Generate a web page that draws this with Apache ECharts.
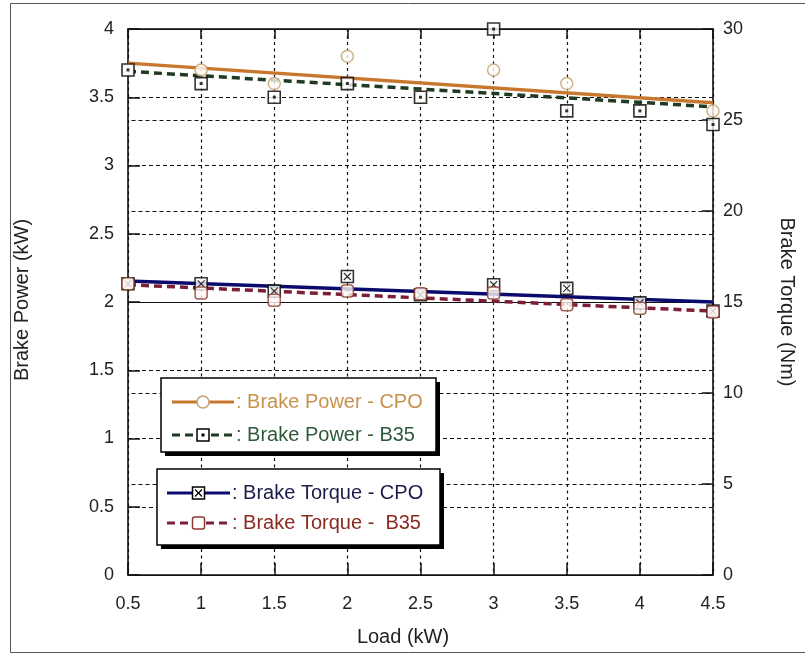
<!DOCTYPE html>
<html>
<head>
<meta charset="utf-8">
<title>Brake Power and Brake Torque vs Load</title>
<script src="https://cdn.jsdelivr.net/npm/echarts@6/dist/echarts.min.js"></script>
<style>
  html, body { margin: 0; padding: 0; background: #ffffff; }
  #chart { width: 805px; height: 656px; }
</style>
</head>
<body>
<div id="chart"></div>
<script>
// Engine load steps (kW)
const loads = [0.5, 1, 1.5, 2, 2.5, 3, 3.5, 4, 4.5];

// Brake power (kW), left axis
const powerCPO = [3.7, 3.7, 3.6, 3.8, 3.5, 3.7, 3.6, 3.4, 3.4];
const powerB35 = [3.7, 3.6, 3.5, 3.6, 3.5, 4.0, 3.4, 3.4, 3.3];

// Brake torque (Nm), right axis
const torqueCPO = [16.0, 16.0, 15.6, 16.4, 15.4, 15.95, 15.75, 14.95, 14.5];
const torqueB35 = [16.0, 15.5, 15.1, 15.6, 15.45, 15.5, 14.85, 14.65, 14.45];

// Straight-line fits, given at the ends of the load range
const fitLoads = [0.5, 4.5];
const powerCPOFit = [3.75, 3.46];
const powerB35Fit = [3.69, 3.43];
const torqueCPOFit = [16.15, 15.0];
const torqueB35Fit = [15.95, 14.5];

// Axis ranges and titles
const loadTicks = { min: 0.5, max: 4.5, step: 0.5 };
const powerTicks = { min: 0, max: 4, step: 0.5 };
const torqueTicks = { min: 0, max: 30, step: 5 };
const xTitle = 'Load (kW)';
const yLeftTitle = 'Brake Power (kW)';
const yRightTitle = 'Brake Torque (Nm)';

const seriesNames = [
  ': Brake Power - CPO',
  ': Brake Power - B35',
  ': Brake Torque - CPO',
  ': Brake Torque -  B35'
];

const FONT = '"Liberation Sans", Arial, sans-serif';
const INK = '#111111';

const C = {
  orange: '#c8782e',
  orangeMark: '#c4a070',
  green: '#1f3b22',
  navy: '#0b0b6e',
  maroon: '#7a1f35',
  maroonMark: '#8a3a30'
};

const pairs = (xs, ys) => xs.map((x, i) => [x, ys[i]]);

const xCross = 'path://M0,0L10,10M10,0L0,10';

const chart = echarts.init(document.getElementById('chart'), null, { renderer: 'canvas' });

const axisLine = { show: true, onZero: false, lineStyle: { color: INK, width: 1.6 } };
const tickStyle = { color: INK, width: 1.5 };

// Legend boxes drawn as graphic groups
function legendBox(x, y, w, h) {
  return [
    { type: 'rect', shape: { x: x + 4, y: y + 4, width: w, height: h }, style: { fill: '#000' }, z: 10 },
    { type: 'rect', shape: { x: x, y: y, width: w, height: h }, style: { fill: '#fff', stroke: '#000', lineWidth: 1.5 }, z: 11 }
  ];
}

function legendRow(x0, x1, y, lineColor, dash, marker, text, textColor) {
  const cx = (x0 + x1) / 2;
  const els = [
    { type: 'line', shape: { x1: x0, y1: y, x2: x1, y2: y },
      style: { stroke: lineColor, lineWidth: 3, lineDash: dash }, z: 12 }
  ];
  if (marker === 'circle') {
    els.push({ type: 'circle', shape: { cx: cx, cy: y, r: 6 }, style: { fill: '#fff', stroke: C.orangeMark, lineWidth: 1.5 }, z: 13 });
  } else if (marker === 'dotSquare') {
    els.push({ type: 'rect', shape: { x: cx - 6, y: y - 6, width: 12, height: 12 }, style: { fill: '#fff', stroke: '#000', lineWidth: 1.5 }, z: 13 });
    els.push({ type: 'rect', shape: { x: cx - 1.5, y: y - 1.5, width: 3, height: 3 }, style: { fill: '#000' }, z: 14 });
  } else if (marker === 'crossSquare') {
    els.push({ type: 'rect', shape: { x: cx - 6, y: y - 6, width: 12, height: 12 }, style: { fill: '#fff', stroke: '#000', lineWidth: 1.5 }, z: 13 });
    els.push({ type: 'line', shape: { x1: cx - 3.5, y1: y - 3.5, x2: cx + 3.5, y2: y + 3.5 }, style: { stroke: '#000', lineWidth: 1.2 }, z: 14 });
    els.push({ type: 'line', shape: { x1: cx + 3.5, y1: y - 3.5, x2: cx - 3.5, y2: y + 3.5 }, style: { stroke: '#000', lineWidth: 1.2 }, z: 14 });
  } else if (marker === 'roundSquare') {
    els.push({ type: 'rect', shape: { x: cx - 6, y: y - 6, width: 12, height: 12, r: 2 }, style: { fill: '#fff', stroke: C.maroonMark, lineWidth: 1.5 }, z: 13 });
  }
  els.push({ type: 'text', x: x1 + 2, y: y, style: { text: text, fill: textColor, font: '20px ' + FONT, textVerticalAlign: 'middle', verticalAlign: 'middle' }, z: 13 });
  return els;
}

const graphics = [].concat(
  // outer frame
  [{ type: 'rect', shape: { x: 10.5, y: 3.5, width: 800, height: 649 }, style: { fill: 'none', stroke: '#555', lineWidth: 1 }, z: 0, silent: true }],
  // axis titles
  [
    { type: 'text', x: 403, y: 637, style: { text: xTitle, fill: '#222', font: '20px ' + FONT, align: 'center', verticalAlign: 'middle' }, z: 5 },
    { type: 'text', x: 22, y: 300, rotation: Math.PI / 2, style: { text: yLeftTitle, fill: '#222', font: '20px ' + FONT, align: 'center', verticalAlign: 'middle' }, z: 5 },
    { type: 'text', x: 787, y: 302, rotation: -Math.PI / 2, style: { text: yRightTitle, fill: '#222', font: '20px ' + FONT, align: 'center', verticalAlign: 'middle' }, z: 5 }
  ],
  legendBox(161, 378, 275, 74),
  legendRow(172, 234, 402, C.orange, null, 'circle', seriesNames[0], '#c8924e'),
  legendRow(172, 234, 435, C.green, [8, 5], 'dotSquare', seriesNames[1], '#2d5a3a'),
  legendBox(157, 469, 283, 76),
  legendRow(167, 230, 493, C.navy, null, 'crossSquare', seriesNames[2], '#1c1c4a'),
  legendRow(167, 230, 523, C.maroon, [8, 5], 'roundSquare', seriesNames[3], '#8b2a1e')
);

const option = {
  backgroundColor: '#ffffff',
  animation: false,
  grid: { left: 128, right: 92, top: 29, bottom: 81, show: false },
  xAxis: [
    {
      type: 'value', position: 'bottom',
      min: loadTicks.min, max: loadTicks.max, interval: loadTicks.step,
      axisLine: axisLine,
      axisTick: { show: true, inside: true, length: 12, lineStyle: tickStyle },
      axisLabel: { margin: 20, fontSize: 18, color: '#222', fontFamily: FONT },
      splitLine: { show: true, lineStyle: { color: INK, width: 1.2, type: [3, 3.5] } }
    },
    {
      type: 'value', position: 'top',
      min: loadTicks.min, max: loadTicks.max, interval: loadTicks.step,
      axisLine: axisLine,
      axisTick: { show: true, inside: true, length: 10, lineStyle: tickStyle },
      axisLabel: { show: false },
      splitLine: { show: false }
    }
  ],
  yAxis: [
    {
      type: 'value', position: 'left',
      min: powerTicks.min, max: powerTicks.max, interval: powerTicks.step,
      axisLine: axisLine,
      axisTick: { show: true, inside: true, length: 12, lineStyle: tickStyle },
      axisLabel: { margin: 14, fontSize: 18, color: '#222', fontFamily: FONT },
      splitLine: { show: true, lineStyle: { color: INK, width: 1.2, type: [4, 3] } }
    },
    {
      type: 'value', position: 'right',
      min: torqueTicks.min, max: torqueTicks.max, interval: torqueTicks.step,
      axisLine: axisLine,
      axisTick: { show: true, inside: true, length: 11, lineStyle: tickStyle },
      axisLabel: { margin: 10, fontSize: 18, color: '#222', fontFamily: FONT },
      splitLine: { show: true, lineStyle: { color: INK, width: 1.2, type: [4, 3], dashOffset: 3.5 } }
    }
  ],
  graphic: graphics,
  series: [
    // fitted lines
    { name: 'Brake Power - CPO fit', type: 'line', yAxisIndex: 0, data: pairs(fitLoads, powerCPOFit),
      symbol: 'none', lineStyle: { color: C.orange, width: 3.5 }, z: 2 },
    { name: 'Brake Power - B35 fit', type: 'line', yAxisIndex: 0, data: pairs(fitLoads, powerB35Fit),
      symbol: 'none', lineStyle: { color: C.green, width: 3.5, type: [8, 5] }, z: 2 },
    { name: 'Brake Torque - CPO fit', type: 'line', yAxisIndex: 1, data: pairs(fitLoads, torqueCPOFit),
      symbol: 'none', lineStyle: { color: C.navy, width: 3.5 }, z: 2 },
    { name: 'Brake Torque - B35 fit', type: 'line', yAxisIndex: 1, data: pairs(fitLoads, torqueB35Fit),
      symbol: 'none', lineStyle: { color: C.maroon, width: 3.5, type: [8, 5] }, z: 2 },

    // measured points: brake power
    { name: seriesNames[0], type: 'scatter', yAxisIndex: 0, data: pairs(loads, powerCPO),
      symbol: 'circle', symbolSize: 12,
      itemStyle: { color: '#fffdf8', borderColor: C.orangeMark, borderWidth: 1.5 }, z: 3 },
    { name: seriesNames[1], type: 'scatter', yAxisIndex: 0, data: pairs(loads, powerB35),
      symbol: 'rect', symbolSize: 12,
      itemStyle: { color: '#ffffff', borderColor: '#000', borderWidth: 1.6 }, z: 4 },
    { name: seriesNames[1] + ' dot', type: 'scatter', yAxisIndex: 0, data: pairs(loads, powerB35),
      symbol: 'rect', symbolSize: 3, itemStyle: { color: '#000' }, z: 5 },

    // measured points: brake torque
    { name: seriesNames[2], type: 'scatter', yAxisIndex: 1, data: pairs(loads, torqueCPO),
      symbol: 'rect', symbolSize: 12,
      itemStyle: { color: '#ffffff', borderColor: '#000', borderWidth: 1.6 }, z: 3 },
    { name: seriesNames[2] + ' cross', type: 'scatter', yAxisIndex: 1, data: pairs(loads, torqueCPO),
      symbol: xCross, symbolSize: 7,
      itemStyle: { color: 'transparent', borderColor: '#000', borderWidth: 1.2 }, z: 3 },
    { name: seriesNames[3], type: 'scatter', yAxisIndex: 1, data: pairs(loads, torqueB35),
      symbol: 'roundRect', symbolSize: 12,
      itemStyle: { color: '#fff6f4', borderColor: C.maroonMark, borderWidth: 1.5 }, z: 4 }
  ]
};

chart.setOption(option);
</script>
</body>
</html>
